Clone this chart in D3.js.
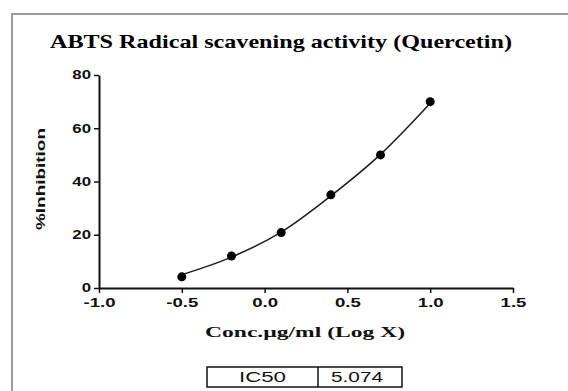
<!DOCTYPE html>
<html>
<head>
<meta charset="utf-8">
<script src="https://cdn.jsdelivr.net/npm/d3@7"></script>
<style>
  html, body { margin: 0; padding: 0; background: #fff; }
  svg { display: block; }
</style>
</head>
<body>
<div id="viz"></div>
<script>
// data
const logConc = [-0.5, -0.2, 0.1, 0.4, 0.7, 1.0];
const inhibition = [4.2, 12.0, 20.8, 35.0, 50.0, 70.0];
// fitted curve, values read at the same x positions
const fitY = [5.0, 11.6, 21.0, 34.6, 50.2, 69.4];
const xTicks = [-1.0, -0.5, 0.0, 0.5, 1.0, 1.5];
const yTicks = [0, 20, 40, 60, 80];
const tableCells = ["IC50", "5.074"];

const W = 568, H = 391;
const svg = d3.select('#viz').append('svg').attr('width', W).attr('height', H);

// stretch text to a target width (the source image is widened)
function fit(sel, len) {
  sel.attr('textLength', len).attr('lengthAdjust', 'spacingAndGlyphs');
}
function stretch(sel, k) {
  sel.each(function () {
    const w = this.getComputedTextLength();
    d3.select(this).attr('textLength', w * k).attr('lengthAdjust', 'spacingAndGlyphs');
  });
}

// outer frame (top and left edges visible)
svg.append('path')
  .attr('d', `M12,${H} V14 H${W}`)
  .attr('fill', 'none')
  .attr('stroke', '#9c9c9c')
  .attr('stroke-width', 2);

const x = d3.scaleLinear().domain([-1, 1.5]).range([99, 513]);
const y = d3.scaleLinear().domain([0, 80]).range([288, 75]);

// title
svg.append('text')
  .attr('x', 281).attr('y', 48)
  .attr('text-anchor', 'middle')
  .style('font-family', '"Liberation Serif", "Times New Roman", serif')
  .style('font-weight', 'bold')
  .style('font-size', '19px')
  .text('ABTS Radical scavening activity (Quercetin)')
  .call(fit, 462);

// axes
const yAxis = svg.append('g')
  .attr('transform', `translate(${x(-1)},0)`)
  .call(d3.axisLeft(y).tickValues(yTicks).tickSize(5).tickSizeOuter(0).tickPadding(3));

const xAxis = svg.append('g')
  .attr('transform', `translate(0,${y(0)})`)
  .call(d3.axisBottom(x).tickValues(xTicks).tickSize(5).tickSizeOuter(0).tickPadding(5)
    .tickFormat(d => d.toFixed(1)));

[xAxis, yAxis].forEach(g => {
  g.select('.domain').attr('stroke', '#111').attr('stroke-width', 2);
  g.selectAll('.tick line').attr('stroke', '#111').attr('stroke-width', 1.5);
  g.selectAll('.tick text')
    .attr('fill', '#111')
    .style('font-family', '"Liberation Sans", Arial, sans-serif')
    .style('font-weight', 'bold')
    .style('font-size', '12px');
});
xAxis.selectAll('.tick text').call(stretch, 1.55);
yAxis.selectAll('.tick text').call(stretch, 1.4);

// axis titles
svg.append('text')
  .attr('x', 305).attr('y', 337)
  .attr('text-anchor', 'middle')
  .style('font-family', '"Liberation Serif", "Times New Roman", serif')
  .style('font-weight', 'bold')
  .style('font-size', '15px')
  .attr('fill', '#111')
  .text('Conc.µg/ml (Log X)')
  .call(fit, 200);

svg.append('text')
  .attr('transform', 'translate(45,179) rotate(-90)')
  .attr('text-anchor', 'middle')
  .style('font-family', '"Liberation Sans", Arial, sans-serif')
  .style('font-weight', 'bold')
  .style('font-size', '13px')
  .attr('fill', '#111')
  .text('%Inhibition')
  .call(fit, 102);

// fitted curve
const line = d3.line()
  .x((d, i) => x(logConc[i]))
  .y(d => y(d))
  .curve(d3.curveMonotoneX);

svg.append('path')
  .datum(fitY)
  .attr('d', line)
  .attr('fill', 'none')
  .attr('stroke', '#222')
  .attr('stroke-width', 1.6);

// points
svg.append('g')
  .selectAll('circle')
  .data(inhibition)
  .join('circle')
  .attr('cx', (d, i) => x(logConc[i]))
  .attr('cy', d => y(d))
  .attr('r', 4.5)
  .attr('fill', '#000');

// IC50 table
const cellX = [207, 318, 402];
const tbl = svg.append('g');
tbl.append('rect')
  .attr('x', cellX[0]).attr('y', 367)
  .attr('width', cellX[2] - cellX[0]).attr('height', 20)
  .attr('fill', '#fff').attr('stroke', '#111').attr('stroke-width', 1.5);
tbl.append('line')
  .attr('x1', cellX[1]).attr('x2', cellX[1]).attr('y1', 367).attr('y2', 387)
  .attr('stroke', '#111').attr('stroke-width', 1.5);
tbl.selectAll('text')
  .data(tableCells)
  .join('text')
  .attr('x', (d, i) => (cellX[i] + cellX[i + 1]) / 2 - (i ? 3 : 0))
  .attr('y', 382)
  .attr('text-anchor', 'middle')
  .style('font-family', '"Liberation Sans", Arial, sans-serif')
  .style('font-size', '15px')
  .attr('fill', '#111')
  .text(d => d)
  .each(function (d, i) { d3.select(this).call(fit, i ? 52 : 47); });
</script>
</body>
</html>
